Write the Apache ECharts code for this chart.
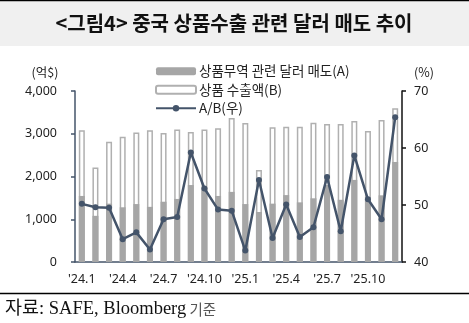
<!DOCTYPE html>
<html>
<head>
<meta charset="utf-8">
<script src="https://cdn.jsdelivr.net/npm/echarts@6/dist/echarts.min.js"></script>
<style>
html,body{margin:0;padding:0;background:#fff;}
#c{width:469px;height:323px;}
</style>
</head>
<body>
<div id="c"></div>
<script>
var categories = ["'24.1","'24.2","'24.3","'24.4","'24.5","'24.6","'24.7","'24.8","'24.9","'24.10","'24.11","'24.12",
                  "'25.1","'25.2","'25.3","'25.4","'25.5","'25.6","'25.7","'25.8","'25.9","'25.10","'25.11","'25.12"];
var dollarSales = [1545,1080,1365,1280,1355,1290,1410,1475,1800,1740,1545,1640,1355,1170,1365,1565,1395,1490,1800,1455,1920,1520,1560,2340];
var goodsExports = [3080,2210,2810,2930,3030,3080,3020,3100,3040,3100,3130,3370,3250,2150,3150,3165,3165,3260,3230,3230,3300,3065,3320,3595];
var ratio = [50.2,49.6,49.5,44.0,45.2,42.2,47.5,47.9,59.2,52.9,49.2,49.0,42.0,54.4,44.2,50.1,44.4,46.1,54.9,45.4,58.7,51.0,47.5,65.4];
var leftTicks = {min:0, max:4000, interval:1000};
var rightTicks = {min:40, max:70, interval:10};

var chart = echarts.init(document.getElementById('c'), null, {renderer:'canvas'});
var FONT = "'Noto Sans', 'Noto Sans CJK KR', sans-serif";
var KFONT = "'Noto Sans CJK KR', sans-serif";
var lineColor = '#44546a';

chart.setOption({
  animation:false,
  backgroundColor:'#ffffff',
  textStyle:{fontFamily:FONT},
  graphic:[
    {type:'rect', shape:{x:0,y:1,width:469,height:45}, style:{fill:'#f0f0f0'}, silent:true, z:-1},
    {type:'line', shape:{x1:0,y1:0.5,x2:469,y2:0.5}, style:{stroke:'#000',lineWidth:1.5}},
    {type:'text', x:234, y:23, style:{text:'<그림4> 중국 상품수출 관련 달러 매도 추이', font:"bold 20px 'Noto Sans CJK KR', sans-serif", fill:'#111', textAlign:'center', textVerticalAlign:'middle'}},
    {type:'text', x:45, y:72, style:{text:'(억$)', font:"12.5px 'Noto Sans CJK KR', sans-serif", fill:'#222', textAlign:'center', textVerticalAlign:'middle'}},
    {type:'text', x:424, y:72, style:{text:'(%)', font:"12.5px 'Noto Sans CJK KR', sans-serif", fill:'#222', textAlign:'center', textVerticalAlign:'middle'}},
    {type:'line', shape:{x1:0,y1:293.5,x2:469,y2:293.5}, style:{stroke:'#000',lineWidth:1.5}},
    {type:'text', x:5, y:309, style:{
      text:'{a|자료: SAFE, Bloomberg} {b|기준}',
      textVerticalAlign:'middle',
      rich:{
        a:{fontFamily:"'Liberation Serif', 'Noto Sans CJK KR', serif", fontSize:18.5, fill:'#111'},
        b:{fontFamily:KFONT, fontSize:14.5, fill:'#555'}
      }
    }}
  ],
  legend:{
    orient:'vertical', left:150, top:59, itemWidth:40, itemHeight:8, itemGap:4,
    textStyle:{fontFamily:KFONT, fontSize:13.5, color:'#222', lineHeight:14.5, padding:[0,0,0,-2]},
    data:['상품무역 관련 달러 매도(A)','상품 수출액(B)','A/B(우)']
  },
  grid:{left:75, right:67, top:91, bottom:61, containLabel:false},
  xAxis:{
    type:'category', data:categories, boundaryGap:true,
    axisLine:{lineStyle:{color:lineColor, width:1.5}},
    axisTick:{interval:2, length:4, lineStyle:{color:lineColor, width:1.5}},
    axisLabel:{interval:2, margin:11, fontSize:12.5, color:'#222', fontFamily:FONT}
  },
  yAxis:[
    {type:'value', min:leftTicks.min, max:leftTicks.max, interval:leftTicks.interval,
     splitLine:{show:false},
     axisLine:{show:true, lineStyle:{color:lineColor, width:1.5}},
     axisTick:{show:true, length:4, lineStyle:{color:lineColor, width:1.5}},
     axisLabel:{margin:18, fontSize:12.5, color:'#222', fontFamily:FONT,
       formatter:function(v){return v.toLocaleString('en-US');}}},
    {type:'value', min:rightTicks.min, max:rightTicks.max, interval:rightTicks.interval,
     splitLine:{show:false}, position:'right',
     axisLine:{show:true, lineStyle:{color:'#111', width:1.5}},
     axisTick:{show:true, length:4, lineStyle:{color:'#111', width:1.5}},
     axisLabel:{margin:12, fontSize:12.5, color:'#222', fontFamily:FONT}}
  ],
  series:[
    {name:'상품 수출액(B)', type:'bar', data:goodsExports, barWidth:6, barGap:'-100%',
     itemStyle:{color:'#ffffff', borderColor:'#b0b0b0', borderWidth:1.5}, z:2},
    {name:'상품무역 관련 달러 매도(A)', type:'bar', data:dollarSales, barWidth:6, barGap:'-100%',
     itemStyle:{color:'#a6a6a6'}, z:3},
    {name:'A/B(우)', type:'line', yAxisIndex:1, data:ratio, symbol:'circle', symbolSize:6,
     lineStyle:{color:lineColor, width:2.5}, itemStyle:{color:lineColor}, z:5}
  ]
});
</script>
</body>
</html>
